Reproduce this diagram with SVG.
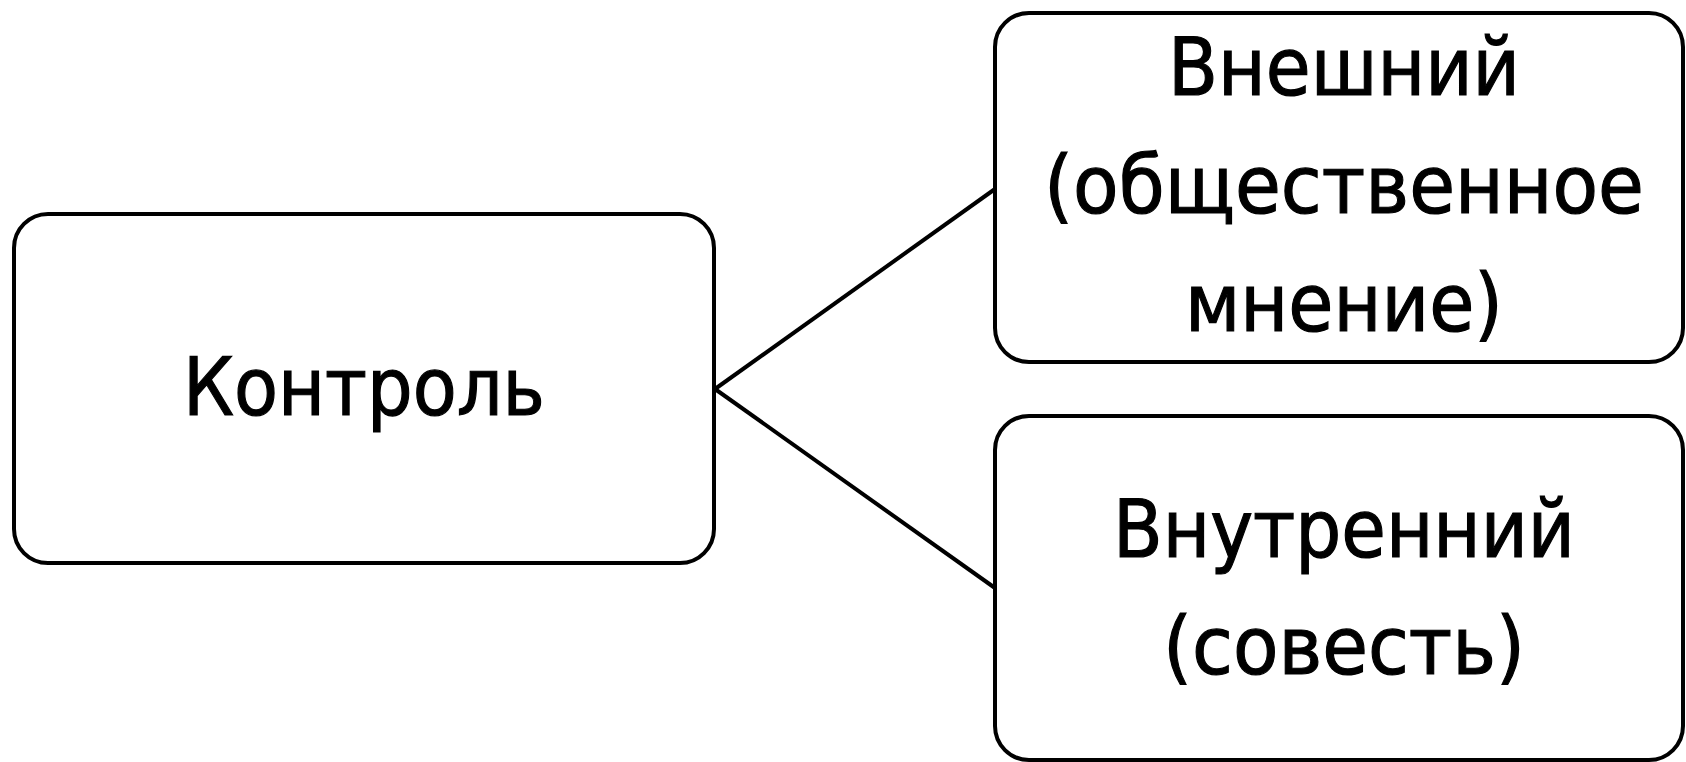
<svg xmlns="http://www.w3.org/2000/svg" width="1686" height="762" viewBox="0 0 1686 762">
<style>
.box{fill:#fff;stroke:#000;stroke-width:4}
.conn{stroke:#000;stroke-width:4;fill:none}
text{font-family:"DejaVu Sans","Liberation Sans",sans-serif;font-size:80px;fill:#000;stroke:#000;stroke-width:1.2;text-anchor:middle}
</style>
<rect width="1686" height="762" fill="#fff"/>
<g id="connectors">
<line class="conn" x1="715" y1="389" x2="995" y2="189"/>
<line class="conn" x1="715" y1="389" x2="995" y2="588"/>
</g>
<g id="node-control">
<rect class="box" x="14" y="214" width="700" height="349" rx="34"/>
<text x="364" y="415" textLength="362" lengthAdjust="spacingAndGlyphs">Контроль</text>
</g>
<g id="node-external">
<rect class="box" x="995" y="13" width="688" height="349" rx="34"/>
<text x="1344" y="95" textLength="352" lengthAdjust="spacingAndGlyphs">Внешний</text>
<text x="1344" y="213" textLength="600" lengthAdjust="spacingAndGlyphs">(общественное</text>
<text x="1344" y="331" textLength="318" lengthAdjust="spacingAndGlyphs">мнение)</text>
</g>
<g id="node-internal">
<rect class="box" x="995" y="416" width="688" height="344" rx="34"/>
<text x="1344" y="557" textLength="462" lengthAdjust="spacingAndGlyphs">Внутренний</text>
<text x="1344" y="674" textLength="362" lengthAdjust="spacingAndGlyphs">(совесть)</text>
</g>
</svg>
